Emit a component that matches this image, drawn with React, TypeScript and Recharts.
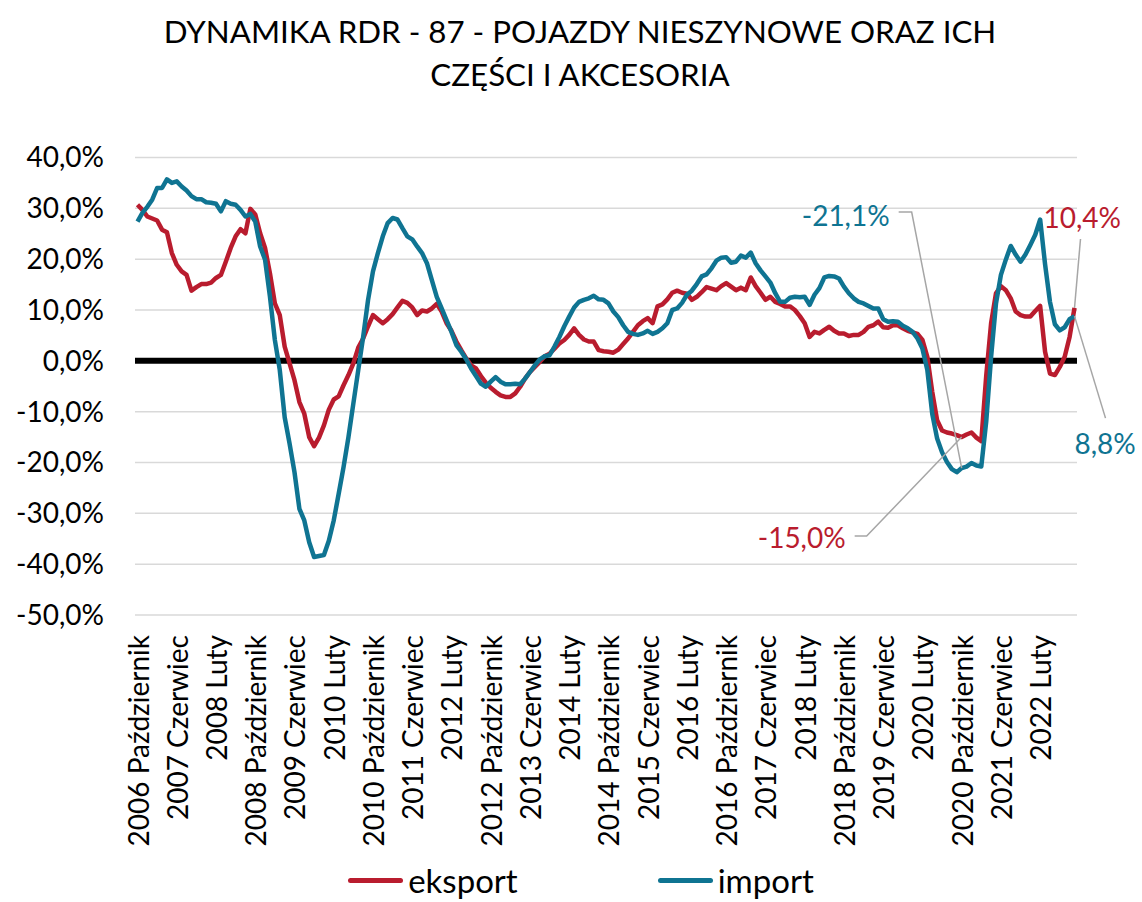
import React from 'react';
import { LineChart, Line, XAxis, YAxis, CartesianGrid, ReferenceLine, Legend } from 'recharts';

const FONT = 'Lato, "Open Sans", sans-serif';
const RED = '#B91C2E';
const TEAL = '#0F7492';

const MONTHS_PL = ['Styczeń', 'Luty', 'Marzec', 'Kwiecień', 'Maj', 'Czerwiec', 'Lipiec', 'Sierpień', 'Wrzesień', 'Październik', 'Listopad', 'Grudzień'];
const START_YEAR = 2006;
const START_MONTH = 9; // Październik

const EKSPORT = [
  30.7, 29.7, 28.4, 28.0, 27.6, 25.8, 25.3, 21.2, 18.9, 17.6, 16.9, 13.8,
  14.5, 15.1, 15.1, 15.4, 16.3, 16.9, 19.5, 22.2, 24.5, 25.9, 25.1, 29.9,
  28.8, 25.1, 22.2, 17.2, 11.3, 9.0, 2.8, -0.5, -3.8, -8.1, -10.4, -15.0,
  -16.8, -15.1, -12.7, -9.6, -7.6, -7.0, -4.8, -2.8, -0.5, 2.6, 4.4, 6.8,
  9.0, 8.2, 7.4, 8.2, 9.2, 10.5, 11.8, 11.4, 10.5, 9.0, 9.9, 9.7,
  10.3, 11.2, 9.7, 7.4, 5.9, 3.8, 2.1, 0.5, -0.9, -1.5, -3.0, -4.3,
  -5.3, -6.1, -6.8, -7.1, -7.1, -6.4, -5.1, -3.5, -2.2, -1.2, -0.2, 0.9,
  1.4, 2.4, 3.4, 4.1, 5.1, 6.4, 5.1, 4.2, 3.8, 3.8, 2.1, 1.9,
  1.8, 1.6, 2.2, 3.3, 4.4, 5.7, 7.0, 7.8, 8.4, 7.4, 10.7, 11.1,
  12.1, 13.4, 13.8, 13.4, 13.2, 12.0, 12.6, 13.5, 14.5, 14.2, 13.9, 14.7,
  15.3, 14.6, 13.9, 14.4, 13.9, 16.4, 14.7, 13.4, 12.0, 12.6, 11.6, 11.2,
  10.7, 10.7, 10.0, 8.8, 7.4, 4.7, 5.7, 5.4, 6.1, 6.7, 5.9, 5.4,
  5.4, 4.9, 5.1, 5.1, 5.7, 6.7, 7.0, 7.7, 6.6, 6.5, 7.0, 7.0,
  6.4, 5.9, 5.6, 5.3, 4.1, 0.8, -6.1, -11.7, -13.7, -14.1, -14.3, -14.6,
  -15.0, -14.5, -14.1, -15.1, -15.8, -3.0, 7.4, 13.3, 14.7, 13.9, 12.3, 9.7,
  9.0, 8.7, 8.7, 9.8, 10.8, 1.8, -2.5, -2.8, -1.2, 0.8, 4.7, 10.4,
];

const IMPORT = [
  27.4, 29.1, 30.3, 31.7, 34.0, 34.0, 35.7, 35.0, 35.3, 34.3, 33.5, 32.4,
  31.8, 31.8, 31.2, 31.1, 30.9, 29.4, 31.4, 30.9, 30.7, 29.7, 28.4, 28.9,
  27.4, 22.5, 19.9, 12.6, 4.1, -1.8, -11.1, -16.3, -21.9, -29.1, -31.4, -35.7,
  -38.6, -38.4, -38.2, -35.4, -31.4, -26.2, -20.9, -15.0, -8.4, -1.8, 4.7, 12.0,
  17.6, 21.2, 24.5, 27.1, 28.1, 27.8, 26.1, 24.5, 23.9, 22.5, 21.2, 19.2,
  15.9, 12.6, 10.3, 8.0, 5.7, 3.1, 1.8, 0.3, -1.5, -3.0, -4.5, -5.1,
  -4.1, -3.2, -4.1, -4.6, -4.6, -4.5, -4.6, -3.5, -2.2, -0.9, 0.3, 0.9,
  1.1, 2.8, 4.7, 6.8, 8.7, 10.5, 11.6, 12.0, 12.3, 12.8, 12.1, 12.0,
  11.3, 9.7, 8.6, 7.0, 5.7, 5.3, 5.1, 5.4, 5.9, 5.3, 5.7, 6.4,
  7.4, 10.0, 10.3, 11.4, 13.0, 13.8, 15.1, 16.6, 17.0, 18.2, 19.7, 20.3,
  20.4, 19.3, 19.5, 20.7, 20.3, 21.3, 19.2, 17.8, 16.6, 15.4, 13.3, 11.6,
  11.6, 12.4, 12.6, 12.5, 12.6, 11.0, 13.0, 14.3, 16.4, 16.7, 16.6, 16.2,
  14.6, 13.3, 12.3, 11.6, 11.3, 10.8, 10.3, 10.3, 8.2, 7.7, 7.8, 7.7,
  6.9, 6.4, 5.7, 4.4, 2.4, -1.8, -10.4, -15.3, -18.0, -19.9, -21.3, -21.9,
  -21.1, -20.8, -20.1, -20.6, -20.8, -12.0, 0.8, 11.3, 16.9, 19.9, 22.6, 20.9,
  19.5, 20.9, 22.8, 24.8, 27.8, 19.0, 11.6, 7.2, 6.0, 6.6, 8.2, 8.8,
];

const Y_TICKS = [-50, -40, -30, -20, -10, 0, 10, 20, 30, 40];

const CATEGORIES = EKSPORT.map((_, i) => {
  const m = START_MONTH + i;
  return `${START_YEAR + Math.floor(m / 12)} ${MONTHS_PL[m % 12]}`;
});

const data = CATEGORIES.map((month, i) => ({ month, eksport: EKSPORT[i], import: IMPORT[i] }));

const fmtPct = (v: number) => `${v.toFixed(1).replace('.', ',')}%`;

// label placement relative to the annotated point (styling only)
const ANNOTATION_LAYOUT: Record<string, Record<number, { tx: number; ty: number; anchor: string; path: number[][] }>> = {
  import: {
    168: { tx: -72, ty: -253, anchor: 'end', path: [[-50, -256], [-63, -256]] },
    191: { tx: 0, ty: 127, anchor: 'start', path: [[31, 102]] },
  },
  eksport: {
    168: { tx: -116, ty: 100, anchor: 'end', path: [[-95, 99], [-107, 99]] },
    191: { tx: -31, ty: -91, anchor: 'start', path: [[6, -69]] },
  },
};

const makeAnnotation = (series: string, color: string) => (props: any) => {
  const { cx, cy, index, value, key } = props;
  const cfg = ANNOTATION_LAYOUT[series][index];
  if (!cfg || cx == null || cy == null) return <g key={key ?? `d-${series}-${index}`} />;
  const pts = [[cx, cy], ...cfg.path.map(([dx, dy]) => [cx + dx, cy + dy])];
  const v = Array.isArray(value) ? value[1] : value;
  return (
    <g key={key ?? `d-${series}-${index}`}>
      <polyline points={pts.map((p) => p.join(',')).join(' ')} fill="none" stroke="#A6A6A6" strokeWidth={1.5} />
      <text
        x={cx + cfg.tx}
        y={cy + cfg.ty}
        textAnchor={cfg.anchor as any}
        dominantBaseline="central"
        fontFamily={FONT}
        fontSize={28}
        fill={color}
      >
        {fmtPct(v)}
      </text>
    </g>
  );
};

const XTick = (props: any) => {
  const { x, y, payload } = props;
  return (
    <text
      x={x}
      y={y}
      transform={`rotate(-90, ${x}, ${y})`}
      textAnchor="end"
      dominantBaseline="central"
      fontFamily={FONT}
      fontSize={28}
      fill="#000"
    >
      {payload.value}
    </text>
  );
};

const LegendContent = (props: any) => {
  const payload = props.payload || [];
  return (
    <div
      style={{
        display: 'flex',
        justifyContent: 'center',
        alignItems: 'center',
        height: 40,
        paddingLeft: 85,
        paddingBottom: 4,
        boxSizing: 'border-box',
        fontFamily: FONT,
        fontSize: 33,
        color: '#000',
      }}
    >
      {payload.map((p: any, k: number) => (
        <div key={p.value} style={{ display: 'flex', alignItems: 'center', marginLeft: k ? 140 : 0 }}>
          <span style={{ display: 'inline-block', width: 55, height: 5, borderRadius: 3, background: p.color, marginRight: 5 }} />
          <span style={{ lineHeight: '36px' }}>{p.value}</span>
        </div>
      ))}
    </div>
  );
};

export default function App() {
  return (
    <div style={{ position: 'absolute', left: 0, top: 0, width: 1142, height: 902, background: '#fff' }}>
      <div
        style={{
          position: 'absolute',
          left: 9,
          top: 10,
          width: 1142,
          textAlign: 'center',
          fontFamily: FONT,
          fontSize: 31.3,
          lineHeight: '43px',
          color: '#000',
        }}
      >
        <div>DYNAMIKA RDR - 87 - POJAZDY NIESZYNOWE ORAZ ICH</div>
        <div>CZĘŚCI I AKCESORIA</div>
      </div>
      <LineChart
        width={1142}
        height={902}
        data={data}
        margin={{ top: 157.5, right: 65, bottom: 0, left: 0 }}
        style={{ position: 'absolute', left: 0, top: 0 }}
      >
        <CartesianGrid vertical={false} stroke="#D9D9D9" strokeWidth={1.5} />
        <XAxis
          dataKey="month"
          interval={7}
          tickLine={false}
          axisLine={false}
          tickSize={0}
          tickMargin={20}
          tick={<XTick />}
          height={247}
          padding={{ left: 2.5, right: 2.5 }}
        />
        <YAxis
          domain={[-50, 40]}
          ticks={Y_TICKS}
          interval={0}
          tickFormatter={(v: number) => fmtPct(v)}
          tickLine={false}
          axisLine={false}
          tickSize={0}
          tickMargin={31}
          width={135}
          tick={{ fill: '#000', fontSize: 28, fontFamily: FONT }}
        />
        <ReferenceLine y={0} stroke="#000" strokeWidth={6} />
        <Legend verticalAlign="bottom" align="center" height={40} content={<LegendContent />} />
        <Line
          type="linear"
          dataKey="eksport"
          name="eksport"
          stroke={RED}
          strokeWidth={4.5}
          strokeLinejoin="round"
          dot={makeAnnotation('eksport', RED)}
          activeDot={false}
          isAnimationActive={false}
        />
        <Line
          type="linear"
          dataKey="import"
          name="import"
          stroke={TEAL}
          strokeWidth={4.5}
          strokeLinejoin="round"
          dot={makeAnnotation('import', TEAL)}
          activeDot={false}
          isAnimationActive={false}
        />
      </LineChart>
    </div>
  );
}
